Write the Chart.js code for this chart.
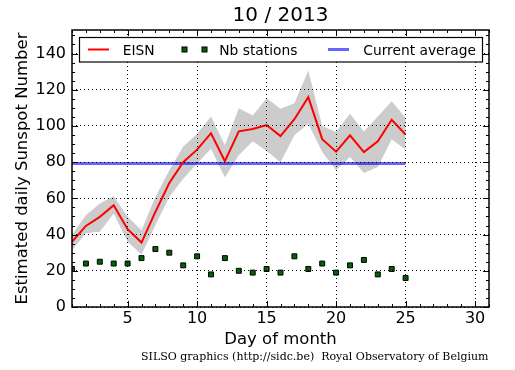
<!DOCTYPE html>
<html>
<head>
<meta charset="utf-8">
<script src="https://cdn.jsdelivr.net/npm/chart.js@4/dist/chart.umd.min.js"></script>
<style>
  body { margin: 0; background: #fff; }
  canvas { display: block; }
</style>
</head>
<body>
<canvas id="eisnChart" width="515" height="370"></canvas>
<script>
// values for October 2013
var days = [1, 2, 3, 4, 5, 6, 7, 8, 9, 10, 11, 12, 13, 14, 15, 16, 17, 18, 19, 20, 21, 22, 23, 24, 25];
var eisn = [36, 44.8, 49.8, 56.2, 43, 35.6, 52.5, 68.5, 80, 86.9, 96, 80.6, 97, 98.3, 100.5,
            94.4, 103.7, 115.9, 92.7, 85.8, 94.8, 85.6, 91.5, 103.4, 95.3];
var eisnUpper = [39.7, 50.7, 57.1, 61.2, 49.8, 42.4, 60.8, 75.5, 88.7, 95.7, 105.2, 89.3, 109.8, 105.8, 115.3,
                 109.5, 112.6, 130.6, 100, 96.6, 106.7, 97, 105.2, 113.7, 104.5];
var eisnLower = [31.4, 40.8, 41.5, 51.6, 36, 29, 45.2, 60.8, 70.9, 79.2, 87.4, 71.5, 83.8, 91.5, 86.1,
                 80, 94.8, 101.2, 85.6, 75.5, 82.8, 74, 77.3, 92.6, 86.9];
var nbStations = [21, 24, 25, 24, 24, 27, 32, 30, 23, 28, 18, 27, 20, 19, 21,
                  19, 28, 21, 24, 19, 23, 26, 18, 21, 16];
var currentAverage = 79.2;
var xTicks = [5, 10, 15, 20, 25, 30];
var yTicks = [0, 20, 40, 60, 80, 100, 120, 140];

function points(vals) {
    return days.map(function (d, i) { return { x: d, y: vals[i] }; });
}

var font = "'DejaVu Sans', sans-serif";

// frame, inward ticks, titles, legend and footer (matplotlib look)
var decorations = {
    id: 'decorations',
    afterDraw: function (chart) {
        var ctx = chart.ctx;
        var a = chart.chartArea;
        var xs = chart.scales.x, ys = chart.scales.y;
        ctx.save();
        ctx.strokeStyle = '#000';
        ctx.lineWidth = 1;
        ctx.beginPath();
        for (var d = 1; d <= 31; d++) {
            var px = Math.round(xs.getPixelForValue(d)) + 0.5;
            var len = d % 5 === 0 ? 6 : 3;
            ctx.moveTo(px, a.bottom); ctx.lineTo(px, a.bottom - len);
            ctx.moveTo(px, a.top); ctx.lineTo(px, a.top + len);
        }
        for (var v = 0; v <= 150; v += 5) {
            var py = Math.round(ys.getPixelForValue(v)) + 0.5;
            var l = v % 20 === 0 ? 6 : 3;
            ctx.moveTo(a.left, py); ctx.lineTo(a.left + l, py);
            ctx.moveTo(a.right, py); ctx.lineTo(a.right - l, py);
        }
        ctx.stroke();
        ctx.lineWidth = 1.5;
        ctx.strokeRect(a.left, a.top, a.right - a.left, a.bottom - a.top);

        // legend
        ctx.fillStyle = '#fff';
        ctx.fillRect(79.5, 37.5, 403, 24.5);
        ctx.lineWidth = 1.2;
        ctx.strokeRect(79.5, 37.5, 403, 24.5);
        ctx.lineWidth = 2;
        ctx.strokeStyle = 'red';
        ctx.beginPath(); ctx.moveTo(88, 49.5); ctx.lineTo(109, 49.5); ctx.stroke();
        ctx.lineWidth = 3;
        ctx.strokeStyle = 'rgba(0,0,255,0.6)';
        ctx.beginPath(); ctx.moveTo(328, 49.5); ctx.lineTo(349, 49.5); ctx.stroke();
        ctx.fillStyle = '#006400';
        ctx.strokeStyle = '#000';
        ctx.lineWidth = 1;
        [184.5, 204.5].forEach(function (cx) {
            ctx.fillRect(cx - 2.5, 47, 5, 5);
            ctx.strokeRect(cx - 2.5, 47, 5, 5);
        });
        ctx.fillStyle = '#000';
        ctx.font = '13.8px ' + font;
        ctx.textBaseline = 'alphabetic';
        ctx.textAlign = 'left';
        ctx.fillText('EISN', 122.7, 54.5);
        ctx.fillText('Nb stations', 219.3, 54.5);
        ctx.fillText('Current average', 363.3, 54.5);

        // titles
        ctx.textAlign = 'center';
        ctx.font = '20px ' + font;
        ctx.fillText('10 / 2013', (a.left + a.right) / 2, 20.5);
        ctx.font = '16.5px ' + font;
        ctx.fillText('Day of month', (a.left + a.right) / 2, 343.5);
        ctx.save();
        ctx.translate(27, (a.top + a.bottom) / 2);
        ctx.rotate(-Math.PI / 2);
        ctx.fillText('Estimated daily Sunspot Number', 0, 0);
        ctx.restore();

        ctx.textAlign = 'right';
        ctx.font = "11px 'DejaVu Serif', serif";
        ctx.fillText('SILSO graphics (http://sidc.be)  Royal Observatory of Belgium', 488.5, 359.5);
        ctx.restore();
    }
};

var ctx = document.getElementById('eisnChart').getContext('2d');
var eisnChart = new Chart(ctx, {
    type: 'line',
    data: {
        datasets: [{
            label: 'Nb stations',
            data: points(nbStations),
            showLine: false,
            pointStyle: 'rect',
            pointRadius: 3.5,
            backgroundColor: '#006400',
            borderColor: '#000',
            borderWidth: 1,
            order: 0
        }, {
            label: 'EISN',
            data: points(eisn),
            borderColor: 'red',
            borderWidth: 2,
            pointRadius: 0,
            fill: false,
            order: 1
        }, {
            label: 'Current average',
            data: [{ x: days[0], y: currentAverage }, { x: days[days.length - 1], y: currentAverage }],
            borderColor: 'rgba(0,0,255,0.6)',
            borderWidth: 3,
            pointRadius: 0,
            fill: false,
            order: 2
        }, {
            label: 'upper',
            data: points(eisnUpper),
            borderWidth: 0,
            pointRadius: 0,
            backgroundColor: 'rgba(128,128,128,0.4)',
            fill: '+1',
            order: 3
        }, {
            label: 'lower',
            data: points(eisnLower),
            borderWidth: 0,
            pointRadius: 0,
            fill: false,
            order: 4
        }]
    },
    options: {
        responsive: false,
        animation: false,
        layout: { padding: { top: 30, right: 26, left: 0, bottom: 0 } },
        plugins: {
            legend: { display: false },
            tooltip: { enabled: false }
        },
        scales: {
            x: {
                type: 'linear',
                min: 1,
                max: 31,
                afterBuildTicks: function (s) { s.ticks = xTicks.map(function (v) { return { value: v }; }); },
                afterFit: function (s) { s.height = 63; },
                ticks: { color: '#000', font: { family: font, size: 16 }, padding: 2, maxRotation: 0 },
                grid: { color: '#000', lineWidth: 1, drawTicks: false, z: 1 },
                border: { display: false, dash: [1, 3] }
            },
            y: {
                min: 0,
                max: 153,
                afterBuildTicks: function (s) { s.ticks = yTicks.map(function (v) { return { value: v }; }); },
                afterFit: function (s) { s.width = 72; },
                ticks: { color: '#000', font: { family: font, size: 16 }, padding: 6 },
                grid: { color: '#000', lineWidth: 1, drawTicks: false, z: 1 },
                border: { display: false, dash: [1, 3] }
            }
        }
    },
    plugins: [decorations]
});
</script>
</body>
</html>
